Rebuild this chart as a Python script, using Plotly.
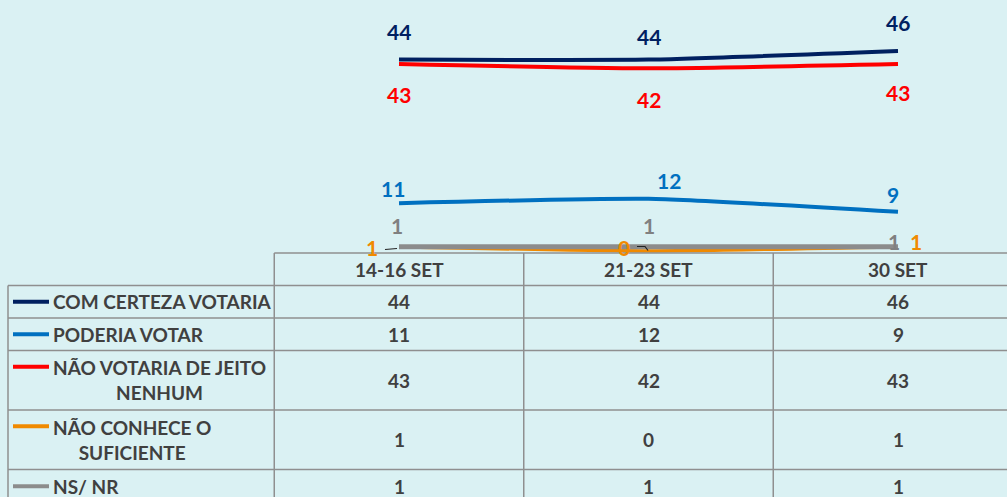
import plotly.graph_objects as go

# ---------------- data ----------------
periods = ["14-16 SET", "21-23 SET", "30 SET"]
series_names = [
    "COM CERTEZA VOTARIA",
    "PODERIA VOTAR",
    "NÃO VOTARIA DE JEITO<br>NENHUM",
    "NÃO CONHECE O<br>SUFICIENTE",
    "NS/ NR",
]
com_certeza = [44, 44, 46]
poderia = [11, 12, 9]
nao_votaria = [43, 42, 43]
nao_conhece = [1, 0, 1]
ns_nr = [1, 1, 1]

# ---------------- styles ----------------
W, H = 1007, 497
BG = "#daf1f3"
TXT = "#404040"
GRID = "#8f8f8f"
FONT = "Lato"
TSIZE = 19
colors = ["#002060", "#0070C0", "#FF0000", "#F08A00", "#8C8C8C"]
label_colors = ["#002060", "#0070C0", "#FF0000", "#F08A00", "#808080"]
widths = [4, 4, 4, 3.5, 5]
values = [com_certeza, poderia, nao_votaria, nao_conhece, ns_nr]

# label offsets (px) per series per point: (xshift, yshift)
offsets = [
    [(0, 28), (0, 23), (0, 28)],
    [(-6, 15), (20, 18), (-5, 17)],
    [(0, -31), (0, -31), (0, -29)],
    [(-27, -1), (-25, 4), (18, 5)],
    [(-2, 21), (0, 21), (-4, 5)],
]

# pixel geometry
col_w = 249.5
x0_px = 399.0           # centre of first period column
zero_px = 251.0         # y pixel of value 0
px_per_unit = 4.35
xr = [-x0_px / col_w, (W - x0_px) / col_w]
yr = [-(H - zero_px) / px_per_unit, zero_px / px_per_unit]

xs = list(range(len(periods)))

fig = go.Figure()
draw_order = [3, 4, 1, 2, 0]
for i in draw_order:
    fig.add_trace(go.Scatter(
        x=xs, y=values[i], mode="lines",
        line=dict(color=colors[i], width=widths[i], shape="spline", smoothing=0.5),
        hoverinfo="skip", showlegend=False,
    ))

annotations = []
for i, vals in enumerate(values):
    for j, v in enumerate(vals):
        dx, dy = offsets[i][j]
        annotations.append(dict(
            x=xs[j], y=v, xref="x", yref="y", text=f"<b>{v}</b>",
            showarrow=False, xshift=dx, yshift=dy,
            xanchor="center", yanchor="middle",
            font=dict(family=FONT, size=21, color=label_colors[i]),
        ))

# ---------------- table ----------------
def py(p):
    return 1 - p / H

def dx(p):
    return (p - x0_px) / col_w

row_bounds = [253, 285.5, 318, 350.5, 410, 469.5, 503]
left_px = 8
shapes = []
line_style = dict(color=GRID, width=1.5)

# small leader lines of the orange labels
shapes.append(dict(type="line", xref="x", yref="paper", x0=dx(385), x1=dx(397),
                   y0=py(249.5), y1=py(248.5), line=dict(color="#222222", width=1.2)))
shapes.append(dict(type="path", xref="x", yref="paper",
                   path=f"M {dx(637)} {py(246.5)} L {dx(645)} {py(246.5)} L {dx(648)} {py(250.5)}",
                   line=dict(color="#222222", width=1.2)))

# header top line
shapes.append(dict(type="line", xref="x", yref="paper", x0=-0.5, x1=xr[1] + 0.1,
                   y0=py(row_bounds[0]), y1=py(row_bounds[0]), line=line_style))
# row lines
for b in row_bounds[1:-1]:
    shapes.append(dict(type="line", xref="paper", yref="paper", x0=left_px / W, x1=1.01,
                       y0=py(b), y1=py(b), line=line_style))
# vertical column lines
for k in range(len(periods)):
    shapes.append(dict(type="line", xref="x", yref="paper", x0=k - 0.5, x1=k - 0.5,
                       y0=py(row_bounds[0]), y1=-0.02, line=line_style))
# left border of label column
shapes.append(dict(type="line", xref="paper", yref="paper", x0=left_px / W, x1=left_px / W,
                   y0=py(row_bounds[1]), y1=-0.02, line=line_style))

# header texts
hy = (row_bounds[0] + row_bounds[1]) / 2
for j, p in enumerate(periods):
    annotations.append(dict(x=xs[j], y=py(hy), xref="x", yref="paper", text=f"<b>{p}</b>",
                            showarrow=False, xanchor="center", yanchor="middle",
                            font=dict(family=FONT, size=TSIZE, color=TXT)))

# rows
for i, name in enumerate(series_names):
    cy = (row_bounds[i + 1] + row_bounds[i + 2]) / 2
    n_lines = name.count("<br>") + 1
    # legend swatch at first text line
    sw_y = cy - (n_lines - 1) * 13.5
    shapes.append(dict(type="line", xref="paper", yref="paper", x0=13 / W, x1=49 / W,
                       y0=py(sw_y), y1=py(sw_y),
                       line=dict(color=colors[i], width=4)))
    annotations.append(dict(x=51 / W, y=py(cy), xref="paper", yref="paper",
                            text=f"<b>{name}</b>", showarrow=False, xanchor="left",
                            yanchor="middle", align="center",
                            font=dict(family=FONT, size=TSIZE, color=TXT)))
    for j, v in enumerate(values[i]):
        annotations.append(dict(x=xs[j], y=py(cy), xref="x", yref="paper",
                                text=f"<b>{v}</b>", showarrow=False,
                                xanchor="center", yanchor="middle",
                                font=dict(family=FONT, size=TSIZE, color=TXT)))

fig.update_layout(
    width=W, height=H,
    margin=dict(l=0, r=0, t=0, b=0),
    paper_bgcolor=BG, plot_bgcolor=BG,
    xaxis=dict(range=xr, domain=[0, 1], visible=False, fixedrange=True),
    yaxis=dict(range=yr, domain=[0, 1], visible=False, fixedrange=True),
    shapes=shapes, annotations=annotations,
    hovermode=False, showlegend=False,
)

fig.write_html(
    "out.html",
    config={"displayModeBar": False},
    post_script="document.body.style.margin='0';document.body.style.background='" + BG + "';",
)
